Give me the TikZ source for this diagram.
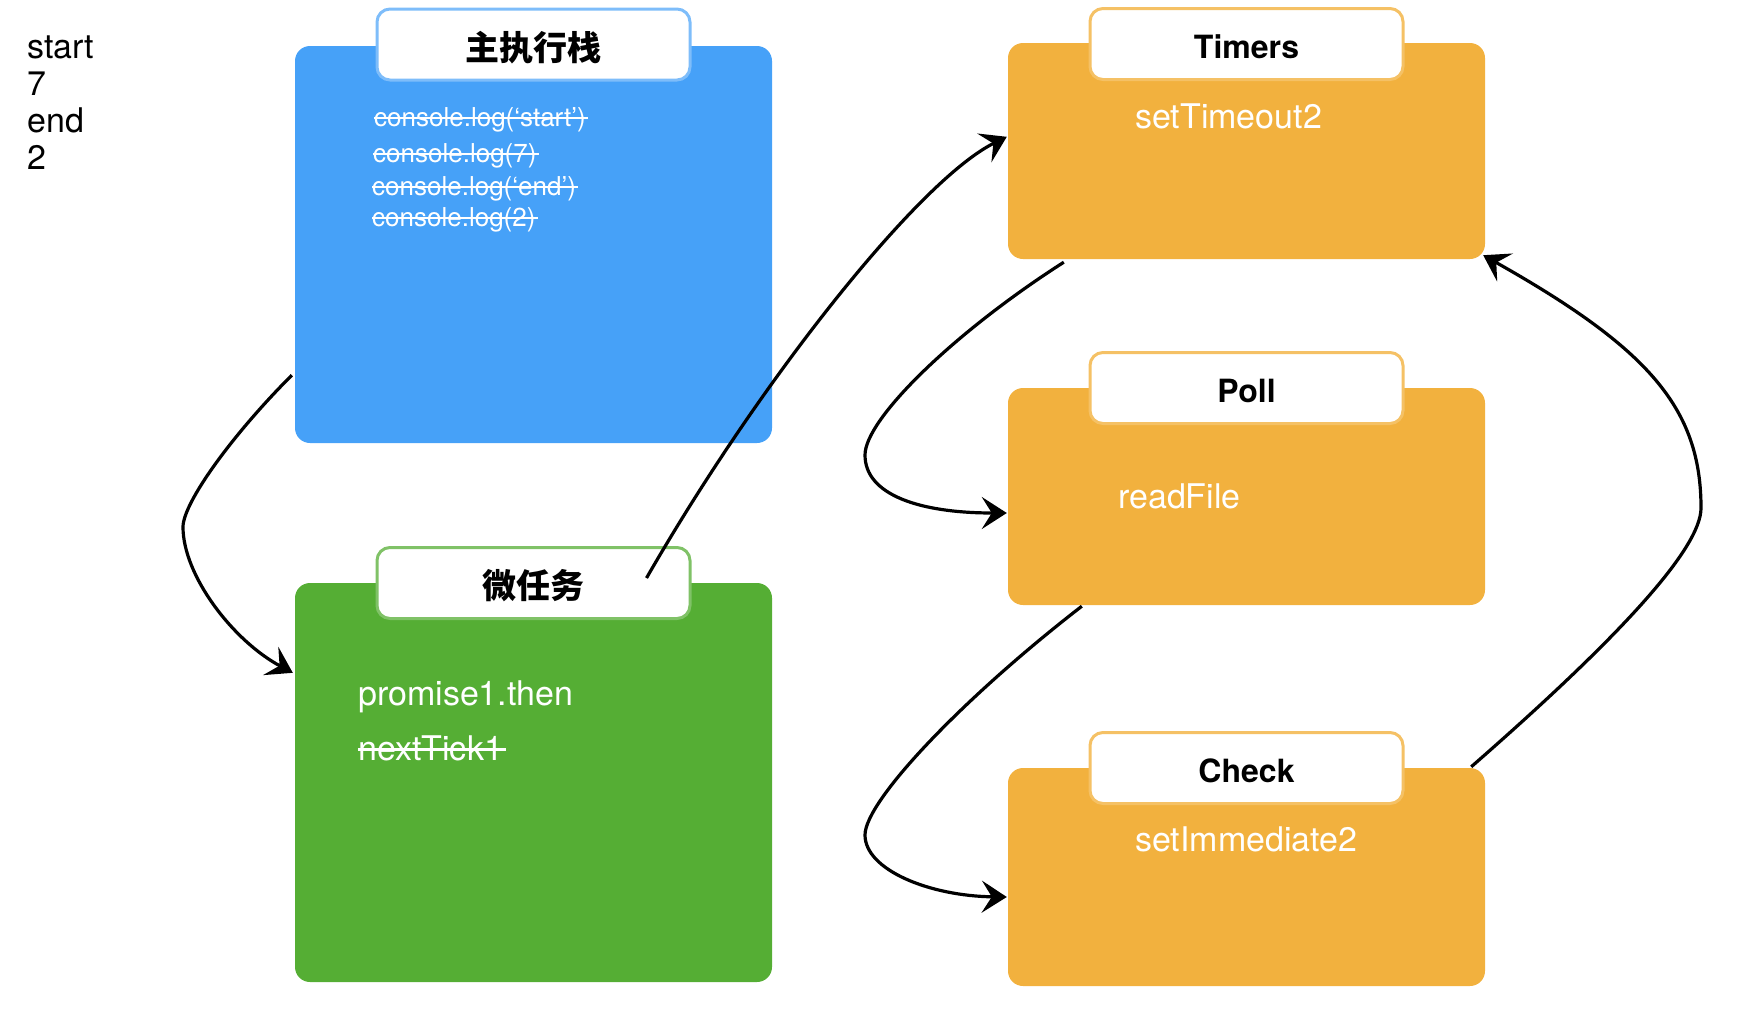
\documentclass[tikz,border=0pt]{standalone}
\usepackage{fontspec}
\setmainfont{TeX Gyre Heros}
\newfontfamily\cjk{Noto Sans CJK SC}
\usetikzlibrary{arrows.meta,calc}
\definecolor{bluec}{RGB}{70,161,248}
\definecolor{greenc}{RGB}{85,174,52}
\definecolor{orangec}{RGB}{242,177,62}
\newsavebox\strkbox
\newcommand\strk[1]{\sbox\strkbox{#1}\rlap{\rule[0.27em]{\dimexpr\wd\strkbox+0.08em\relax}{0.08em}}\usebox\strkbox}
\tikzset{
  panel/.style={rounded corners=15pt, minimum width=477pt, inner sep=0pt, draw=none},
  tabbox/.style={fill=white, rounded corners=13pt, line width=3pt, minimum width=313pt,
    minimum height=71pt, inner sep=0pt, font=\fontsize{32}{36}\selectfont\bfseries,
    text height=29pt, text depth=0pt},
  cjktab/.style={tabbox, font=\fontsize{34}{38}\selectfont\cjk\bfseries, text height=31pt},
  bodytxt/.style={anchor=base west, text=white, inner sep=0pt, font=\fontsize{34}{40}\selectfont},
  codetxt/.style={anchor=base west, text=white, inner sep=0pt, font=\fontsize{26}{30}\selectfont},
  outtxt/.style={anchor=base west, inner sep=0pt, font=\fontsize{34}{40}\selectfont},
  conn/.style={line width=3.2pt, black, -{Stealth[length=25pt,width=32pt,inset=10pt]}}
}
\begin{document}
\begin{tikzpicture}[x=1pt,y=-1pt]
\useasboundingbox (0,0) rectangle (1742,1012);

% output
\node[outtxt] (out1) at (27,58) {start};
\node[outtxt] (out2) at (27,95) {7};
\node[outtxt] (out3) at (27,132) {end};
\node[outtxt] (out4) at (27,169) {2};

% panels
\node[panel, fill=bluec, minimum height=397pt] (stack) at (533.5,244.5) {};
\node[panel, fill=greenc, minimum height=399pt] (micro) at (533.5,782.5) {};
\node[panel, fill=orangec, minimum height=216pt] (timers) at (1246.5,151) {};
\node[panel, fill=orangec, minimum height=217pt] (poll) at (1246.5,496.5) {};
\node[panel, fill=orangec, minimum height=218pt] (check) at (1246.5,877) {};

% tabs
\node[cjktab, draw=bluec!70!white] (stacktab) at (533.5,44.5) {主执行栈};
\node[cjktab, draw=greenc!75!white] (microtab) at (533.5,583) {微任务};
\node[tabbox, draw=orangec!80!white] (timerstab) at (1246.5,44) {Timers};
\node[tabbox, draw=orangec!80!white] (polltab) at (1246.5,388) {Poll};
\node[tabbox, draw=orangec!80!white] (checktab) at (1246.5,768) {Check};

% contents
\node[codetxt] (c1) at (374,126) {\strk{console.log(‘start’)}};
\node[codetxt] (c2) at (373,162) {\strk{console.log(7)}};
\node[codetxt] (c3) at (372,195) {\strk{console.log(‘end’)}};
\node[codetxt] (c4) at (372,226) {\strk{console.log(2)}};

\node[bodytxt] (m1) at (358,705) {promise1.then};
\node[bodytxt] (m2) at (358,760) {\strk{nextTick1}};

\node[bodytxt] (t1) at (1135,128) {setTimeout2};
\node[bodytxt] (p1) at (1118,508) {readFile};
\node[bodytxt] (k1) at (1135,851) {setImmediate2};

% connector endpoints
\coordinate (a1s) at ($(stack.south west)+(-3,-68)$);
\coordinate (a1m) at (183,527);
\coordinate (a1e) at ($(micro.north west)+(-2,90)$);
\coordinate (a2s) at ($(microtab.north east)+(-45,32)$);
\coordinate (a2e) at ($(timers.north west)+(-1,94)$);
\coordinate (a3s) at ($(timers.south west)+(56,3)$);
\coordinate (a3m) at (865,455);
\coordinate (a3e) at ($(poll.west)+(-1,16.5)$);
\coordinate (a4s) at ($(poll.south west)+(74,1)$);
\coordinate (a4m) at (865,835);
\coordinate (a4e) at ($(check.west)+(-1,20)$);
\coordinate (a5s) at ($(check.north east)+(-14,-1)$);
\coordinate (a5m) at (1701,508);
\coordinate (a5e) at ($(timers.south east)+(-2,-4)$);

% connectors
\draw[conn] (a1s) .. controls +(-60,60) and +(0,-24) .. (a1m)
                  .. controls +(0,48) and +(-60.5,-32.5) .. (a1e);
\draw[conn] (a2s) .. controls +(115,-200) and +(-87,43) .. (a2e);
\draw[conn] (a3s) .. controls +(-109.5,70) and +(0,-36) .. (a3m)
                  .. controls +(0,40) and +(-87,0) .. (a3e);
\draw[conn] (a4s) .. controls +(-119.4,92.4) and +(0,-34) .. (a4m)
                  .. controls +(0,35) and +(-77,-1) .. (a4e);
\draw[conn] (a5s) .. controls +(150,-131) and +(0,40) .. (a5m)
                  .. controls +(0,-100) and +(165,93) .. (a5e);
\end{tikzpicture}
\end{document}
